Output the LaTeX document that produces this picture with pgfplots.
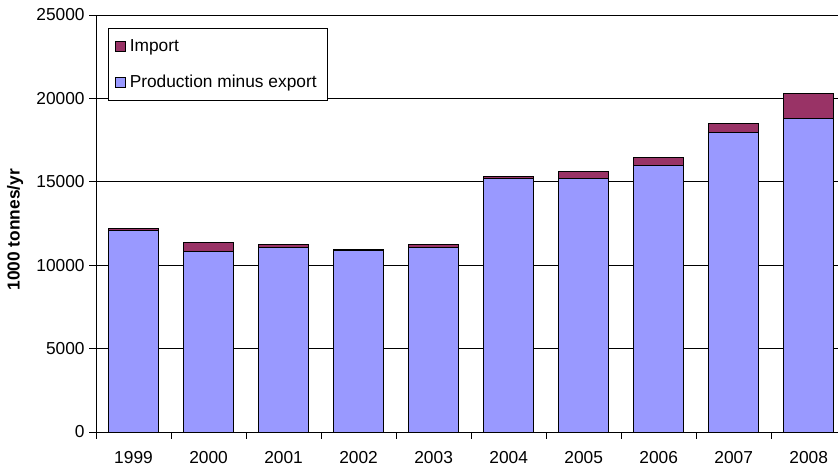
\documentclass[border=0pt]{standalone}
\usepackage{pgfplots}
\pgfplotsset{compat=1.18}
\usepackage{fontspec}
\setmainfont{Liberation Sans}
\definecolor{imp}{HTML}{993366}
\definecolor{prod}{HTML}{9999FF}
\begin{document}
\begin{tikzpicture}
\begin{axis}[
  scale only axis, width=556.5pt, height=312.75pt,
  ybar stacked, bar width=37.5pt,
  xmin=-0.5, xmax=9.39, ymin=0, ymax=25000,
  clip=false,
  axis x line*=bottom, axis y line*=left,
  axis line style={black, line width=0.6pt},
  xtick={0,...,9},
  xticklabels={1999,2000,2001,2002,2003,2004,2005,2006,2007,2008},
  major x tick style={draw=none},
  minor xtick={-0.5,0.5,1.5,2.5,3.5,4.5,5.5,6.5,7.5,8.5},
  minor tick length=5pt,
  minor x tick style={black, line width=0.6pt},
  ytick={0,5000,...,25000},
  major tick length=5pt,
  tick align=outside,
  ytick style={black, line width=0.6pt},
  ymajorgrids, grid style={black, line width=0.5pt},
  scaled y ticks=false,
  /pgf/number format/1000 sep={},
  /pgf/number format/assume math mode=true,
  ticklabel style={font=\fontsize{13}{15.5}\selectfont},
  xticklabel style={yshift=-6pt},
  ylabel={\bfseries 1000 tonnes/yr},
  ylabel style={at={(rel axis cs:-0.109,0.485)}, anchor=center, font=\fontsize{13}{15.5}\selectfont},
  reverse legend,
  legend cell align=left,
  legend style={at={(rel axis cs:0.016,0.969)}, anchor=north west, draw=black, line width=0.6pt,
    font=\fontsize{13}{15.5}\selectfont, row sep=12pt, inner xsep=5pt, inner ysep=6.5pt,
    nodes={inner xsep=3pt}},
  legend image code/.code={\draw[#1, line width=0.6pt] (0pt,-3.75pt) rectangle (7.5pt,3.75pt);},
]
\addplot[fill=prod, draw=black, line width=0.6pt] coordinates {
 (0,12080) (1,10800) (2,11040) (3,10880) (4,11040)
 (5,15220) (6,15220) (7,16000) (8,17960) (9,18780)};
\addlegendentry{Production minus export}
\addplot[fill=imp, draw=black, line width=0.6pt] coordinates {
 (0,120) (1,540) (2,180) (3,80) (4,200)
 (5,80) (6,380) (7,440) (8,540) (9,1540)};
\addlegendentry{Import}
\coordinate (bl) at (rel axis cs:-0.1294,-0.0911);
\coordinate (tr) at (rel axis cs:1,1.036);
\end{axis}
\pgfresetboundingbox
\path[use as bounding box] (bl) rectangle (tr);
\end{tikzpicture}
\end{document}
